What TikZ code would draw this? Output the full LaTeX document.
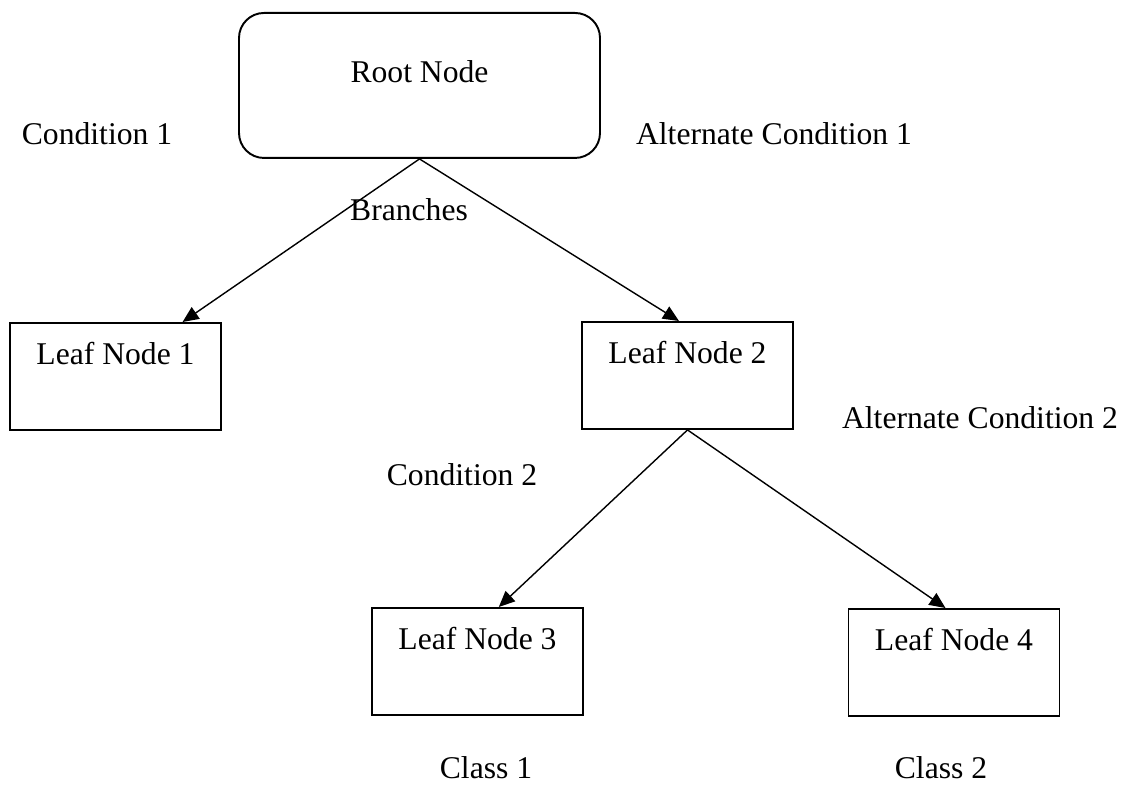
\documentclass[tikz,border=0pt]{standalone}
\usepackage{fontspec}
\setmainfont{Liberation Serif}
\usetikzlibrary{arrows.meta,calc}

\tikzset{
  box/.style={draw, line width=1.1pt, inner sep=0pt, minimum width=4.22cm,
    text height=0.84cm, text depth=1.3cm, anchor=north},
  branch/.style={line width=0.8pt, -{Triangle[length=0.32cm, width=0.28cm]}},
  lbl/.style={inner sep=0pt}
}

\begin{document}
\begin{tikzpicture}[font=\fontsize{18}{21}\selectfont]
\useasboundingbox (0, 0) rectangle (22.54, 15.72);

% the tree
\node[box, rounded corners=0.5cm, minimum width=7.22cm,
  text height=1.4cm, text depth=1.5cm] (root) at (8.39, 15.48) {Root Node};
\node[box] (leaf1) at (2.31, 9.28) {Leaf Node 1};
\node[box] (leaf2) at (13.75, 9.30) {Leaf Node 2};
\node[box] (leaf3) at (9.55, 3.58) {Leaf Node 3};
\node[box] (leaf4) at (19.08, 3.56) {Leaf Node 4};

\draw[branch] (root.south) -- ($(leaf1.north west)!0.815!(leaf1.north east)$);
\draw[branch] (root.south) -- ($(leaf2.north west)!0.46!(leaf2.north east)$);
\draw[branch] (leaf2.south) -- ($(leaf3.north west)!0.6!(leaf3.north east)$);
\draw[branch] (leaf2.south) -- ($(leaf4.north west)!0.46!(leaf4.north east)$);

% labels
\node[lbl] (cond1) at (1.94, 13.04) {Condition 1};
\node[lbl] (branches) at (8.18, 11.52) {Branches};
\node[lbl] (alt1) at (15.48, 13.04) {Alternate Condition 1};
\node[lbl] (cond2) at (9.24, 6.22) {Condition 2};
\node[lbl] (alt2) at (19.6, 7.36) {Alternate Condition 2};
\node[lbl] (class1) at (9.72, 0.36) {Class 1};
\node[lbl] (class2) at (18.82, 0.36) {Class 2};

\end{tikzpicture}
\end{document}
